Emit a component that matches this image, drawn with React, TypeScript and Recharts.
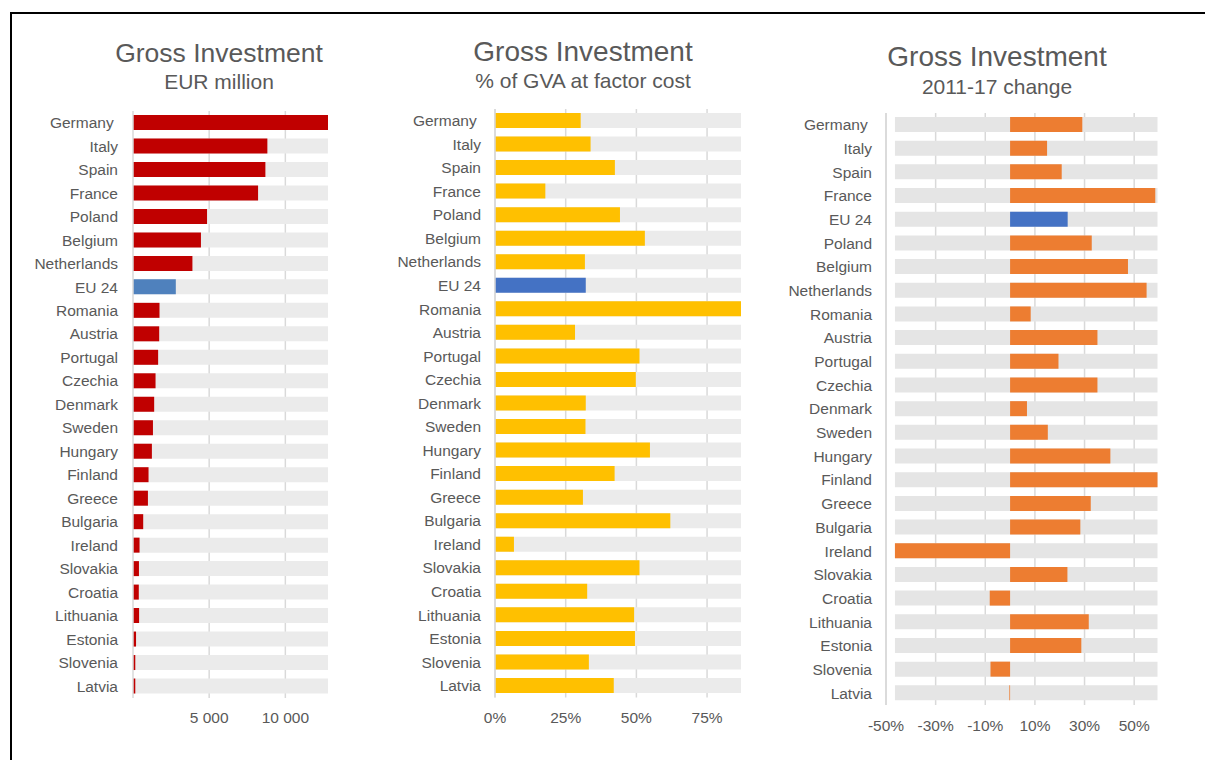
import React from 'react';
import { BarChart, Bar, XAxis, YAxis, CartesianGrid, Cell } from 'recharts';

// ---------- data ----------
const countriesAB = [
  'Germany ', 'Italy', 'Spain', 'France', 'Poland', 'Belgium', 'Netherlands', 'EU 24',
  'Romania', 'Austria', 'Portugal', 'Czechia', 'Denmark', 'Sweden', 'Hungary', 'Finland',
  'Greece', 'Bulgaria', 'Ireland', 'Slovakia', 'Croatia', 'Lithuania', 'Estonia', 'Slovenia', 'Latvia',
];
const investmentEurMillion = [
  12800, 8820, 8690, 8210, 4860, 4460, 3900, 2810,
  1740, 1720, 1650, 1480, 1390, 1310, 1240, 1020,
  980, 670, 430, 390, 380, 400, 200, 150, 150,
];
const investmentPctGva = [
  30.3, 33.8, 42.4, 17.8, 44.2, 53.0, 31.8, 32.1,
  87.0, 28.3, 51.1, 49.8, 32.1, 32.0, 54.8, 42.3,
  31.1, 62.0, 6.7, 51.1, 32.6, 49.2, 49.5, 33.2, 42.0,
];
const countriesC = [
  'Germany ', 'Italy', 'Spain', 'France', 'EU 24', 'Poland', 'Belgium', 'Netherlands',
  'Romania', 'Austria', 'Portugal', 'Czechia', 'Denmark', 'Sweden', 'Hungary', 'Finland',
  'Greece', 'Bulgaria', 'Ireland', 'Slovakia', 'Croatia', 'Lithuania', 'Estonia', 'Slovenia', 'Latvia',
];
const change2011to17 = [
  29.1, 14.9, 20.8, 58.5, 23.2, 32.9, 47.5, 55.0,
  8.3, 35.2, 19.5, 35.2, 6.8, 15.2, 40.4, 59.4,
  32.5, 28.3, -46.4, 23.1, -8.2, 31.7, 28.7, -7.9, -0.3,
];
const ticksEur = [5000, 10000];
const ticksPct = [0, 25, 50, 75];
const ticksChange = [-50, -30, -10, 10, 30, 50];
const HIGHLIGHT = 'EU 24';

// ---------- styling ----------
const FONT = '"Liberation Sans", Arial, Helvetica, sans-serif';
const TEXT = '#595959';
const GRID = '#D9D9D9';

const fmtThousands = (v: number) => String(v).replace(/\B(?=(\d{3})+(?!\d))/g, ' ');
const fmtPct = (v: number) => `${v}%`;

const CategoryTick = (props: any) => {
  const { x, y, payload } = props;
  return (
    <text
      x={x}
      y={y}
      dy="0.35em"
      textAnchor="end"
      fill={TEXT}
      fontSize={15.5}
      fontFamily={FONT}
      style={{ whiteSpace: 'pre' }}
    >
      {payload.value}
    </text>
  );
};

type PanelProps = {
  left: number;
  width: number;
  title: string;
  subtitle: string;
  titleSize: number;
  titleX: number;
  titleY: number;
  subY: number;
  names: string[];
  values: number[];
  domain: [number, number];
  ticks: number[];
  tickFmt: (v: number) => string;
  color: string;
  euColor: string;
  bgColor: string;
  top: number;
  plotBottom: number;
  yAxisWidth: number;
  rightMargin: number;
  labelGap: number;
  xTickGap: number;
  rangeBg: boolean;
};

function Panel(p: PanelProps) {
  const min = Math.min(...p.values);
  const max = Math.max(...p.values);
  const data = p.names.map((n, i) => ({
    name: n,
    value: p.values[i],
    bg: p.rangeBg ? [min, max] : [0, max],
  }));
  const H = 760;
  const xAxisH = 30;
  return (
    <div style={{ position: 'absolute', left: p.left, top: 0, width: p.width, height: H }}>
      <div
        style={{
          position: 'absolute', left: p.titleX - p.left, top: p.titleY,
          transform: 'translate(-50%, -50%)', whiteSpace: 'nowrap', lineHeight: 1,
          fontFamily: FONT, fontSize: p.titleSize, color: TEXT,
        }}
      >
        {p.title}
      </div>
      <div
        style={{
          position: 'absolute', left: p.titleX - p.left, top: p.subY,
          transform: 'translate(-50%, -50%)', whiteSpace: 'nowrap', lineHeight: 1,
          fontFamily: FONT, fontSize: 21, color: TEXT,
        }}
      >
        {p.subtitle}
      </div>
      <div style={{ position: 'absolute', left: 0, top: 0 }}>
        <BarChart
          width={p.width}
          height={H}
          data={data}
          layout="vertical"
          margin={{ top: p.top, right: p.rightMargin, bottom: H - p.plotBottom - xAxisH, left: 0 }}
        >
          <XAxis
            type="number"
            domain={p.domain}
            ticks={p.ticks}
            allowDataOverflow
            height={xAxisH}
            axisLine={false}
            tickLine={false}
            tickSize={0}
            tickMargin={p.xTickGap}
            tickFormatter={p.tickFmt}
            tick={{ fill: TEXT, fontSize: 15.5, fontFamily: FONT }}
            interval={0}
          />
          <YAxis
            type="category"
            dataKey="name"
            width={p.yAxisWidth}
            axisLine={{ stroke: GRID, strokeWidth: 1.5 }}
            tickLine={false}
            tickSize={0}
            tickMargin={p.labelGap}
            tick={<CategoryTick />}
            interval={0}
          />
          <YAxis yAxisId="bg" type="category" dataKey="name" hide />
          <Bar yAxisId="bg" dataKey="bg" fill={p.bgColor} barSize={15} isAnimationActive={false} />
          <CartesianGrid horizontal={false} stroke={GRID} strokeWidth={1.5} syncWithTicks />
          <Bar dataKey="value" barSize={15} isAnimationActive={false}>
            {data.map((d) => (
              <Cell key={d.name} fill={d.name === HIGHLIGHT ? p.euColor : p.color} />
            ))}
          </Bar>
        </BarChart>
      </div>
    </div>
  );
}

export default function App() {
  return (
    <div
      style={{
        position: 'absolute', left: 0, top: 0, width: 1205, height: 760,
        overflow: 'hidden', background: '#fff',
      }}
    >
      <div
        style={{
          position: 'absolute', left: 10, top: 12, width: 1400, height: 1000,
          borderTop: '2px solid #000', borderLeft: '2px solid #000',
        }}
      />
      <Panel
        left={0}
        width={380}
        title="Gross Investment"
        subtitle="EUR million"
        titleSize={26.5}
        titleX={219}
        titleY={53}
        subY={81}
        names={countriesAB}
        values={investmentEurMillion}
        domain={[0, 12800]}
        ticks={ticksEur}
        tickFmt={fmtThousands}
        color="#C00000"
        euColor="#4F81BD"
        bgColor="#EBEBEB"
        top={111}
        plotBottom={698}
        yAxisWidth={133}
        rightMargin={52}
        labelGap={15}
        xTickGap={14}
        rangeBg={false}
      />
      <Panel
        left={380}
        width={400}
        title="Gross Investment"
        subtitle="% of GVA at factor cost"
        titleSize={28}
        titleX={583}
        titleY={52}
        subY={80}
        names={countriesAB}
        values={investmentPctGva}
        domain={[0, 87]}
        ticks={ticksPct}
        tickFmt={fmtPct}
        color="#FFC000"
        euColor="#4472C4"
        bgColor="#EBEBEB"
        top={109}
        plotBottom={697.5}
        yAxisWidth={115}
        rightMargin={39}
        labelGap={14}
        xTickGap={14}
        rangeBg={false}
      />
      <Panel
        left={780}
        width={425}
        title="Gross Investment"
        subtitle="2011-17 change"
        titleSize={28}
        titleX={997}
        titleY={57}
        subY={86}
        names={countriesC}
        values={change2011to17}
        domain={[-50, 60]}
        ticks={ticksChange}
        tickFmt={fmtPct}
        color="#ED7D31"
        euColor="#4472C4"
        bgColor="#E5E5E5"
        top={113}
        plotBottom={705}
        yAxisWidth={106}
        rightMargin={46}
        labelGap={14}
        xTickGap={14.5}
        rangeBg={true}
      />
    </div>
  );
}
